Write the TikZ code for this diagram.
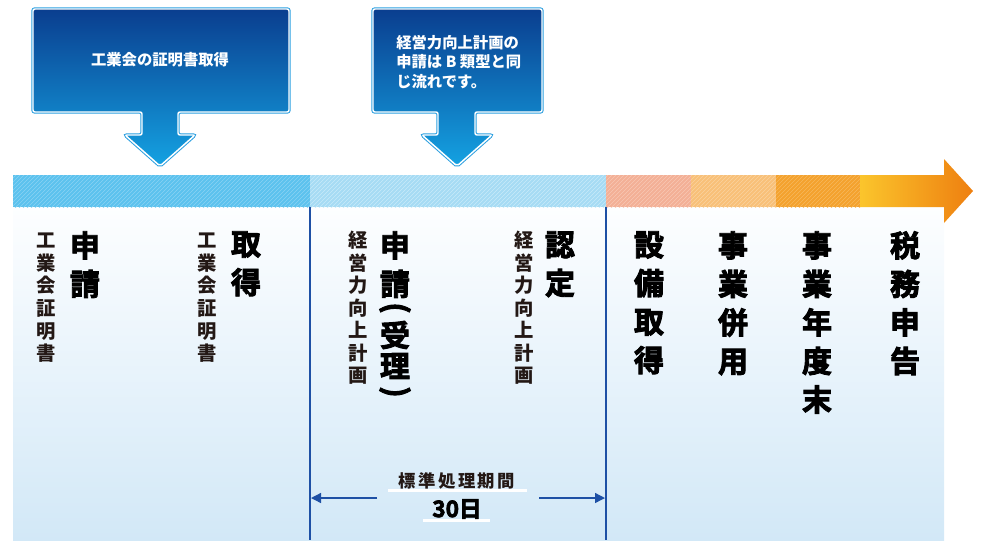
\documentclass[tikz,border=0pt]{standalone}
\usepackage{fontspec}
\usepackage{graphicx}
\newfontfamily\cjk{Noto Sans CJK JP}
\newfontfamily\cjkheavy[FakeBold=3]{Noto Sans CJK JP Bold}
\usetikzlibrary{patterns,arrows.meta}
\definecolor{boxtop}{HTML}{0A3E8F}
\definecolor{boxbot}{HTML}{14A2E2}
\definecolor{boxedge}{HTML}{2B9FE0}
\definecolor{segA}{HTML}{5CC2EE}\definecolor{segAs}{HTML}{8AD3F3}
\definecolor{segB}{HTML}{A6DBF4}\definecolor{segBs}{HTML}{C8EAF9}
\definecolor{segC}{HTML}{F3B096}\definecolor{segCs}{HTML}{F8C8B4}
\definecolor{segD}{HTML}{F8C078}\definecolor{segDs}{HTML}{FAD39E}
\definecolor{segE}{HTML}{F4A22E}\definecolor{segEs}{HTML}{F7B85C}
\definecolor{arrY}{HTML}{FBC52C}\definecolor{arrO}{HTML}{EE7F10}
\definecolor{panTop}{HTML}{FDFEFF}\definecolor{panBot}{HTML}{D2E8F7}
\definecolor{vline}{HTML}{1E50A5}
\definecolor{txt}{HTML}{231815}
\tikzset{
  callout/.style={top color=boxtop, bottom color=boxbot},
  calloutedge/.style={draw=boxedge, line width=2.6pt, rounded corners=1.5pt},
  calloutwhite/.style={draw=white, line width=1.1pt, rounded corners=1.5pt},
  callouttext/.style={text=white, font=\cjk\bfseries\fontsize{11.5}{14.6}\selectfont, inner sep=0pt},
  smallcol/.style={anchor=north, inner sep=0pt, align=center, text=txt,
    font=\cjk\bfseries\fontsize{14.5}{16.9}\selectfont},
  bigcol/.style={anchor=north, inner sep=0pt, align=center, text=black,
    font=\cjkheavy\fontsize{22.5}{28.9}\selectfont},
  bigchar/.style={inner sep=0pt, text=black, font=\cjkheavy\fontsize{22.5}{26}\selectfont},
  divider/.style={draw=vline, line width=1.1pt},
  dimarrow/.style={draw=vline, line width=1pt, -{Triangle[length=7.5pt,width=7.5pt]}},
}
\begin{document}
\begin{tikzpicture}[x=0.75pt,y=-0.75pt]
\useasboundingbox (0,0) rectangle (981,547);
% panel
\shade[top color=panTop, bottom color=panBot] (13,207) rectangle (944,540);
% timeline bar
\fill[segA] (13,175) rectangle (310,207);
\fill[pattern=north east lines, pattern color=segAs] (13,175) rectangle (310,207);
\fill[segB] (310,175) rectangle (606,207);
\fill[pattern=north east lines, pattern color=segBs] (310,175) rectangle (606,207);
\fill[segC] (606,175) rectangle (691,207);
\fill[pattern=north east lines, pattern color=segCs] (606,175) rectangle (691,207);
\fill[segD] (691,175) rectangle (776,207);
\fill[pattern=north east lines, pattern color=segDs] (691,175) rectangle (776,207);
\fill[segE] (776,175) rectangle (860,207);
\fill[pattern=north east lines, pattern color=segEs] (776,175) rectangle (860,207);
\shade[left color=arrY, right color=arrO] (860,175) -- (944,175) -- (944,159) -- (973,191) -- (944,223) -- (944,207) -- (860,207) -- cycle;
% dividers
\coordinate (d1t) at (310,207); \coordinate (d1b) at (310,540);
\coordinate (d2t) at (606,207); \coordinate (d2b) at (606,540);
\draw[divider] (d1t) -- (d1b);
\draw[divider] (d2t) -- (d2b);
% callout 1
\def\calloutA{(33,9) -- (289,9) -- (289,112) -- (178,112) -- (178,135) -- (195,135) -- (160,166) -- (125,135) -- (142,135) -- (142,112) -- (33,112) -- cycle}
\draw[calloutedge] \calloutA;
\shade[callout] \calloutA;
\draw[calloutwhite] \calloutA;
\node[callouttext] (c1) at (160,60) {工業会の証明書取得};
% callout 2
\def\calloutB{(373,9) -- (542,9) -- (542,112) -- (475,112) -- (475,135) -- (492,135) -- (457,166) -- (422,135) -- (438,135) -- (438,112) -- (373,112) -- cycle}
\draw[calloutedge] \calloutB;
\shade[callout] \calloutB;
\draw[calloutwhite] \calloutB;
\node[callouttext, anchor=north west, align=left] (c2) at (396,35) {経営力向上計画の\\申請は B 類型と同\\じ流れです。};
% columns
\node[smallcol] (s1) at (46,233) {工\\業\\会\\証\\明\\書};
\node[bigcol] (b1) at (85,231) {申\\請};
\node[smallcol] (s2) at (207,233) {工\\業\\会\\証\\明\\書};
\node[bigcol] (b2) at (246,231) {取\\得};
\node[smallcol] (s3) at (358,231) {経\\営\\力\\向\\上\\計\\画};
\node[bigcol] (b3) at (395,231) {申\\請};
\node[bigchar] (p1) at (395,308) {\rotatebox{-90}{(}};
\node[bigchar] (b3b) at (395,335) {受};
\node[bigchar] (b3c) at (395,366) {理};
\node[bigchar] (p2) at (395,392) {\rotatebox{-90}{)}};
\node[smallcol] (s4) at (524,231) {経\\営\\力\\向\\上\\計\\画};
\node[bigcol] (b4) at (560,231) {認\\定};
\node[bigcol] (b5) at (649,231) {設\\備\\取\\得};
\node[bigcol] (b6) at (733,231) {事\\業\\併\\用};
\node[bigcol] (b7) at (817,231) {事\\業\\年\\度\\末};
\node[bigcol] (b8) at (905,231) {税\\務\\申\\告};
% standard period
\fill[white] (388,489) rectangle (527,492);
\fill[white] (423,519) rectangle (490,522);
\node[inner sep=0pt, text=txt, font=\cjk\bfseries\fontsize{13}{15}\selectfont\addfontfeature{LetterSpace=14}] (per) at (457,481) {標準処理期間};
\node[inner sep=0pt, text=black, font=\cjkheavy\fontsize{17}{19}\selectfont] (days) at (457,509) {30日};
\coordinate (la) at (377,498); \coordinate (lb) at (311,498);
\coordinate (ra) at (539,498); \coordinate (rb) at (605,498);
\draw[dimarrow] (la) -- (lb);
\draw[dimarrow] (ra) -- (rb);
\end{tikzpicture}
\end{document}
